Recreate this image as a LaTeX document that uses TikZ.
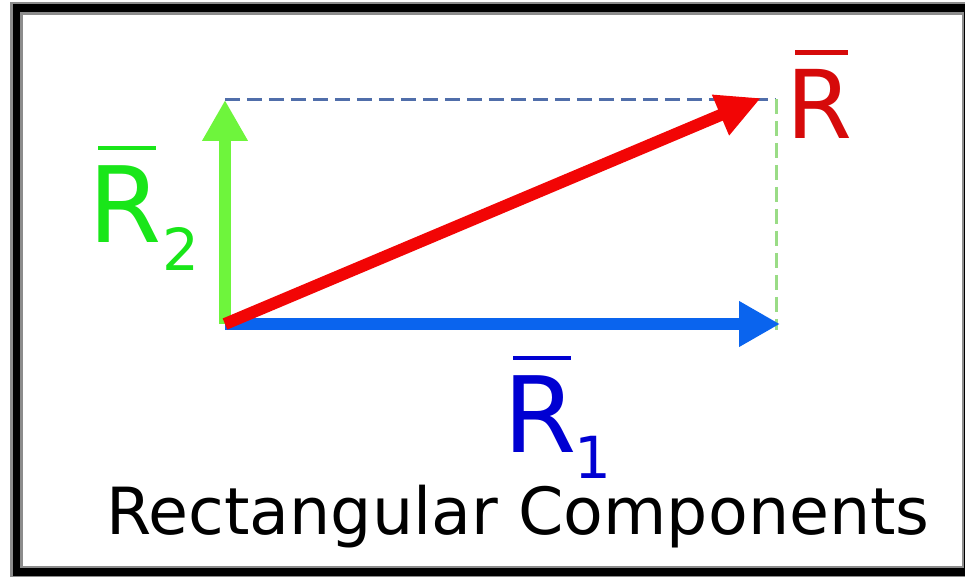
\documentclass[tikz,border=0pt]{standalone}
\usepackage{fontspec}
\setmainfont{DejaVu Sans}
\usetikzlibrary{arrows.meta}
\definecolor{vecred}{HTML}{F20505}
\definecolor{vecgreen}{HTML}{6EF53C}
\definecolor{vecblue}{HTML}{0A64EE}
\definecolor{labred}{HTML}{D60A0A}
\definecolor{labgreen}{HTML}{19E619}
\definecolor{labblue}{HTML}{0000D2}
\definecolor{guideblue}{HTML}{506EAA}
\definecolor{guidegreen}{HTML}{9ADC86}

\begin{document}
\begin{tikzpicture}[
  x=0.02cm, y=-0.02cm,
  vec/.style={line width=0.24cm, -{Triangle[length=0.82cm,width=0.86cm]}},
  guide/.style={line width=0.06cm, dash pattern=on 0.3cm off 0.14cm},
  lab/.style={anchor=base west, inner sep=0pt},
  bigR/.style={font=\fontsize{60}{60}\selectfont},
  subR/.style={font=\fontsize{33}{33}\selectfont},
  bar/.style={line width=0.09cm}
]
\useasboundingbox (0,0) rectangle (965,576);

% frame
\draw[black!45, line width=0.26cm] (16.5,8) rectangle (968,572);
\draw[line width=0.16cm] (16.5,8) rectangle (968,572);

\coordinate (O) at (225,324);
\coordinate (tipone) at (780,324);
\coordinate (tiptwo) at (225,100);
\coordinate (tipsum) at (761,98);
\coordinate (corner) at (776,99);

% completing the rectangle
\draw[guide, guideblue] (tiptwo |- corner) -- (corner);
\draw[guide, guidegreen] (corner) -- ([yshift=-0.12cm]corner |- O);

% components first, resultant on top
\draw[vec, vecblue] (O) -- (tipone);
\draw[vec, vecgreen] (O) -- (tiptwo);
\draw[vec, vecred, -{Triangle[length=0.88cm,width=0.82cm]}] (O) -- (tipsum);

% labels
\node[lab, bigR, text=labred, font=\fontsize{54}{54}\selectfont] (rsum) at (786,138) {R};
\draw[bar, labred] ([shift={(9,-16)}]rsum.north west) -- ([shift={(-5,-16)}]rsum.north east);

\node[lab, bigR, text=labgreen] (rtwo) at (88,242) {R};
\node[lab, subR, text=labgreen] (rtwosub) at (162,270) {2};
\draw[bar, labgreen] ([shift={(10,-17)}]rtwo.north west) -- ([shift={(-6,-17)}]rtwo.north east);

\node[lab, bigR, text=labblue] (rone) at (503,452) {R};
\node[lab, subR, text=labblue] (ronesub) at (574,478) {1};
\draw[bar, labblue] ([shift={(10,-17)}]rone.north west) -- ([shift={(-6,-17)}]rone.north east);

\node[anchor=base, inner sep=0pt, font=\fontsize{37}{37}\selectfont] (title) at (518,534) {Rectangular Components};
\end{tikzpicture}
\end{document}
